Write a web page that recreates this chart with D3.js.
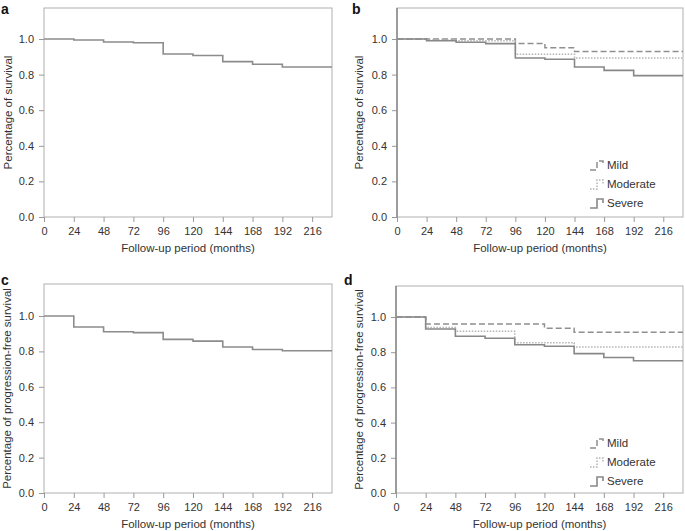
<!DOCTYPE html>
<html><head><meta charset="utf-8">
<script src="https://cdn.jsdelivr.net/npm/d3@7"></script>
<style>
html,body{margin:0;padding:0;background:#fff;}
svg{display:block;font-family:"Liberation Sans",Arial,sans-serif;}
</style></head>
<body>
<svg id="chart" width="685" height="531"></svg>
<script>
const months = [0, 24, 48, 72, 96, 120, 144, 168, 192];
const endMonth = 232;
const xTicks = [0, 24, 48, 72, 96, 120, 144, 168, 192, 216];
const yTicks = [0, 0.2, 0.4, 0.6, 0.8, 1.0];
const groups = ["Mild", "Moderate", "Severe"];

const survAll      = [1.0, 0.994, 0.983, 0.979, 0.916, 0.907, 0.873, 0.858, 0.843];
const survMild     = [1.0, 1.0, 1.0, 1.0, 0.975, 0.951, 0.930, 0.930, 0.930];
const survModerate = [1.0, 0.995, 0.990, 0.990, 0.914, 0.914, 0.893, 0.893, 0.893];
const survSevere   = [1.0, 0.990, 0.982, 0.974, 0.893, 0.886, 0.843, 0.824, 0.794];

const pfsAll      = [1.0, 0.938, 0.911, 0.906, 0.868, 0.858, 0.825, 0.811, 0.804];
const pfsMild     = [1.0, 0.960, 0.960, 0.960, 0.960, 0.936, 0.913, 0.913, 0.913];
const pfsModerate = [1.0, 0.940, 0.919, 0.919, 0.853, 0.853, 0.830, 0.830, 0.830];
const pfsSevere   = [1.0, 0.932, 0.891, 0.879, 0.842, 0.834, 0.792, 0.770, 0.751];

const styles = {
  All:      {color: "#8c8c8c", dash: null, width: 1.6},
  Mild:     {color: "#8f8f8f", dash: "6,3", width: 1.5},
  Moderate: {color: "#b4b4b4", dash: "1.5,1.5", width: 1.5},
  Severe:   {color: "#888888", dash: null, width: 1.6}
};

const svg = d3.select("#chart");

function panel(opt) {
  const g = svg.append("g");
  const x = d3.scaleLinear().domain([0, endMonth]).range([opt.left, opt.right]);
  const y = d3.scaleLinear().domain([0, (opt.bottom - opt.top) / (opt.bottom - opt.one)])
    .range([opt.bottom, opt.top]);

  g.append("rect").attr("x", opt.left).attr("y", opt.top)
    .attr("width", opt.right - opt.left).attr("height", opt.bottom - opt.top)
    .attr("fill", "none").attr("stroke", "#b0b0b0").attr("stroke-width", 1);

  const xAxis = d3.axisBottom(x).tickValues(xTicks).tickSize(5).tickSizeOuter(0).tickPadding(5);
  const ax = g.append("g").attr("transform", `translate(0,${opt.bottom})`).call(xAxis);
  const yAxis = d3.axisLeft(y).tickValues(yTicks).tickSize(5).tickSizeOuter(0).tickPadding(5)
    .tickFormat(d3.format(".1f"));
  const ay = g.append("g").attr("transform", `translate(${opt.left},0)`).call(yAxis);
  [ax, ay].forEach(a => {
    a.select(".domain").remove();
    a.selectAll(".tick line").attr("stroke", "#999");
    a.selectAll(".tick text").attr("fill", "#333").style("font-size", "11px")
      .style("font-family", "'Liberation Sans', Arial, sans-serif");
  });
  if (opt.darkAxis) {
    g.append("line").attr("x1", opt.left).attr("x2", opt.left)
      .attr("y1", opt.top).attr("y2", opt.bottom).attr("stroke", "#888").attr("stroke-width", 1.5);
  }

  const line = d3.line().x(d => x(d[0])).y(d => y(d[1])).curve(d3.curveStepAfter);
  opt.series.forEach(s => {
    const pts = months.map((m, i) => [m, s.values[i]]);
    pts.push([endMonth, s.values[s.values.length - 1]]);
    const st = styles[s.name];
    g.append("path").attr("d", line(pts)).attr("fill", "none")
      .attr("stroke", st.color).attr("stroke-width", st.width)
      .attr("stroke-dasharray", st.dash);
  });

  g.append("text").attr("x", (opt.left + opt.right) / 2).attr("y", opt.bottom + 35)
    .attr("text-anchor", "middle").attr("fill", "#333").style("font-size", "11.5px")
    .text("Follow-up period (months)");
  g.append("text")
    .attr("transform", `translate(${opt.ylabX},${(opt.top + opt.bottom) / 2}) rotate(-90)`)
    .attr("text-anchor", "middle").attr("dominant-baseline", "central")
    .attr("fill", "#333").style("font-size", "11.5px").text(opt.ylabel);
  g.append("text").attr("x", opt.letterX).attr("y", opt.letterY)
    .attr("font-weight", "bold").attr("fill", "#111").style("font-size", "14px").text(opt.letter);

  if (opt.legend) {
    const lg = g.append("g");
    groups.forEach((name, i) => {
      const st = styles[name];
      const yy = opt.legendY + i * 19;
      const lx = opt.legendX;
      lg.append("path")
        .attr("d", `M${lx},${yy + 5} H${lx + 7} V${yy - 4} H${lx + 13} V${yy}`)
        .attr("fill", "none").attr("stroke", st.color).attr("stroke-width", st.width)
        .attr("stroke-dasharray", st.dash);
      lg.append("text").attr("x", lx + 17).attr("y", yy).attr("dominant-baseline", "central")
        .attr("fill", "#333").style("font-size", "11.5px").text(name);
    });
  }
}

panel({left: 44, right: 332, top: 8, bottom: 217, one: 39, letter: "a", letterX: 1, letterY: 14,
  ylabX: 8, ylabel: "Percentage of survival",
  series: [{name: "All", values: survAll}]});
panel({left: 397, right: 683, top: 8, bottom: 217, one: 39, letter: "b", letterX: 352, letterY: 14,
  ylabX: 359, ylabel: "Percentage of survival", darkAxis: true,
  legend: true, legendX: 590, legendY: 165,
  series: [{name: "Mild", values: survMild}, {name: "Moderate", values: survModerate}, {name: "Severe", values: survSevere}]});
panel({left: 44, right: 332, top: 284, bottom: 493, one: 316, letter: "c", letterX: 1, letterY: 285,
  ylabX: 7, ylabel: "Percentage of progression-free survival",
  series: [{name: "All", values: pfsAll}]});
panel({left: 396, right: 683, top: 286, bottom: 493, one: 317, letter: "d", letterX: 344, letterY: 285,
  ylabX: 359, ylabel: "Percentage of progression-free survival", darkAxis: true,
  legend: true, legendX: 590, legendY: 443,
  series: [{name: "Mild", values: pfsMild}, {name: "Moderate", values: pfsModerate}, {name: "Severe", values: pfsSevere}]});
</script>
</body></html>
